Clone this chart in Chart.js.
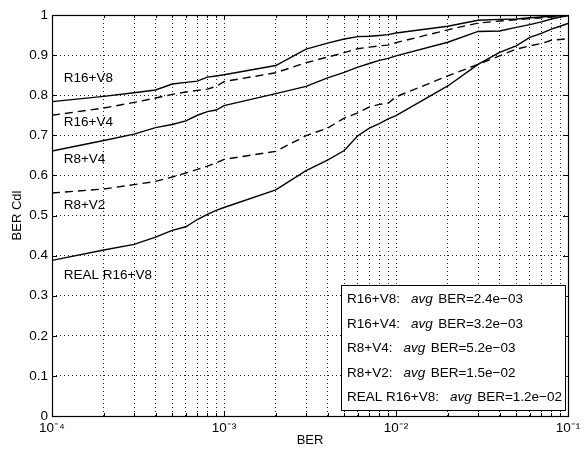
<!DOCTYPE html>
<html>
<head>
<meta charset="utf-8">
<script src="https://cdn.jsdelivr.net/npm/chart.js@4.4.0/dist/chart.umd.min.js"></script>
<style>
  html, body { margin: 0; padding: 0; background: #ffffff; }
  #wrap { width: 588px; height: 454px; }
</style>
</head>
<body>
<div id="wrap"><canvas id="c" width="588" height="454"></canvas></div>
<script>
// ---- data ----
const berValues = [
  1e-4, 2e-4, 3e-4, 4e-4, 5e-4, 6e-4, 7e-4, 8e-4, 9e-4,
  1e-3, 2e-3, 3e-3, 4e-3, 5e-3, 6e-3, 7e-3, 8e-3, 9e-3,
  1e-2, 2e-2, 3e-2, 4e-2, 5e-2, 6e-2, 7e-2, 8e-2, 9e-2,
  1e-1
];
const r16v8 = [
  0.784, 0.797, 0.806, 0.813, 0.828, 0.832, 0.835, 0.845, 0.848,
  0.851, 0.874, 0.915, 0.930, 0.940, 0.946, 0.947, 0.949, 0.951,
  0.955, 0.972, 0.987, 0.989, 0.990, 0.993, 0.995, 0.997, 0.998,
  1.000
];
const r16v4 = [
  0.750, 0.768, 0.782, 0.793, 0.802, 0.808, 0.812, 0.815, 0.822,
  0.834, 0.856, 0.881, 0.895, 0.906, 0.916, 0.920, 0.923, 0.925,
  0.931, 0.963, 0.980, 0.985, 0.988, 0.991, 0.993, 0.995, 0.997,
  0.999
];
const r8v4 = [
  0.661, 0.687, 0.703, 0.719, 0.727, 0.736, 0.750, 0.759, 0.763,
  0.774, 0.804, 0.822, 0.843, 0.857, 0.870, 0.879, 0.887, 0.892,
  0.898, 0.932, 0.959, 0.960, 0.969, 0.976, 0.983, 0.990, 0.995,
  0.998
];
const r8v2 = [
  0.556, 0.566, 0.577, 0.585, 0.596, 0.606, 0.615, 0.623, 0.631,
  0.640, 0.660, 0.699, 0.718, 0.743, 0.756, 0.771, 0.777, 0.780,
  0.796, 0.848, 0.877, 0.898, 0.915, 0.923, 0.929, 0.937, 0.939,
  0.941
];
const realR16v8 = [
  0.388, 0.414, 0.428, 0.446, 0.463, 0.472, 0.490, 0.503, 0.513,
  0.520, 0.564, 0.612, 0.638, 0.662, 0.699, 0.718, 0.729, 0.741,
  0.749, 0.823, 0.877, 0.907, 0.923, 0.944, 0.954, 0.965, 0.972,
  0.979
];
const seriesNames = ['R16+V8', 'R16+V4', 'R8+V4', 'R8+V2', 'REAL R16+V8'];
const avgBer = ['2.4e\u221203', '3.2e\u221203', '5.2e\u221203', '1.5e\u221202', '1.2e\u221202'];
const xTickValues = berValues;
const yTickValues = [0, 0.1, 0.2, 0.3, 0.4, 0.5, 0.6, 0.7, 0.8, 0.9, 1];
const supDigits = {'-': '\u207B', '0': '\u2070', '1': '\u00B9', '2': '\u00B2', '3': '\u00B3', '4': '\u2074'};
// curve label anchors (data coordinates)
const curveLabelX = [1.17e-4, 1.17e-4, 1.17e-4, 1.17e-4, 1.17e-4];
const curveLabelY = [0.842, 0.732, 0.639, 0.525, 0.352];

const FONT = "'Liberation Sans', Arial, Helvetica, sans-serif";
const mk = arr => berValues.map((x, i) => ({x: x, y: arr[i]}));
const allSeries = [r16v8, r16v4, r8v4, r8v2, realR16v8];
const dashes = [[], [8, 5], [], [8, 5], []];

const datasets = allSeries.map((s, i) => ({
  label: seriesNames[i],
  data: mk(s),
  borderColor: '#000',
  borderWidth: 1.4,
  borderDash: dashes[i],
  pointRadius: 0,
  fill: false,
  tension: 0
}));

function isDecade(v) {
  const l = Math.log10(v);
  return Math.abs(l - Math.round(l)) < 1e-9;
}
function decadeLabel(v) {
  const e = String(Math.round(Math.log10(v)));
  return '10' + e.split('').map(c => supDigits[c]).join('');
}

const framePlugin = {
  id: 'frame',
  afterDraw(chart) {
    const ctx = chart.ctx;
    const a = chart.chartArea;
    const xs = chart.scales.x, ys = chart.scales.y;
    ctx.save();
    // inward tick marks
    ctx.strokeStyle = '#000';
    ctx.lineWidth = 1;
    ctx.beginPath();
    xTickValues.forEach(v => {
      const px = Math.round(xs.getPixelForValue(v)) + 0.5;
      const len = isDecade(v) ? 5 : 3;
      ctx.moveTo(px, a.bottom); ctx.lineTo(px, a.bottom - len);
      ctx.moveTo(px, a.top); ctx.lineTo(px, a.top + len);
    });
    yTickValues.forEach(v => {
      const py = Math.round(ys.getPixelForValue(v)) + 0.5;
      ctx.moveTo(a.left, py); ctx.lineTo(a.left + 5, py);
      ctx.moveTo(a.right, py); ctx.lineTo(a.right - 5, py);
    });
    ctx.stroke();
    // axes box
    ctx.lineWidth = 1.2;
    ctx.strokeRect(Math.round(a.left) + 0.5, Math.round(a.top) + 0.5,
                   Math.round(a.right - a.left), Math.round(a.bottom - a.top));
    // curve labels
    ctx.fillStyle = '#000';
    ctx.font = '13.5px ' + FONT;
    ctx.textBaseline = 'middle';
    ctx.textAlign = 'left';
    seriesNames.forEach((n, i) => {
      ctx.fillText(n, xs.getPixelForValue(curveLabelX[i]), ys.getPixelForValue(curveLabelY[i]));
    });
    // legend box
    const bw = 224, bh = 125;
    const bx = Math.round(a.right - 3 - bw) + 0.5;
    const by = Math.round(a.bottom - 6 - bh) + 0.5;
    ctx.fillStyle = '#fff';
    ctx.fillRect(bx, by, bw, bh);
    ctx.lineWidth = 1;
    ctx.strokeStyle = '#000';
    ctx.strokeRect(bx, by, bw, bh);
    ctx.fillStyle = '#000';
    seriesNames.forEach((n, i) => {
      const ty = by + 14 + i * 24.5;
      let tx = bx + 5.5;
      ctx.font = '13.5px ' + FONT;
      const p1 = n + ':';
      ctx.fillText(p1, tx, ty);
      tx += ctx.measureText(p1).width + 11;
      ctx.font = 'italic 13.5px ' + FONT;
      ctx.fillText('avg', tx, ty);
      tx += ctx.measureText('avg').width + 5.5;
      ctx.font = '13.5px ' + FONT;
      ctx.fillText('BER=' + avgBer[i], tx, ty);
    });
    ctx.restore();
  }
};

new Chart(document.getElementById('c'), {
  type: 'line',
  data: { datasets: datasets },
  options: {
    responsive: false,
    animation: false,
    devicePixelRatio: 1,
    layout: { padding: { top: 15, right: 20, left: 0, bottom: 0 } },
    plugins: { legend: { display: false }, tooltip: { enabled: false } },
    scales: {
      x: {
        type: 'logarithmic',
        min: 1e-4, max: 1e-1,
        afterBuildTicks: s => { s.ticks = xTickValues.map(v => ({value: v})); },
        afterFit: s => { s.height = 38; },
        ticks: {
          autoSkip: false, maxRotation: 0,
          color: '#000',
          font: { family: FONT, size: 13.5 },
          padding: 4,
          callback: v => isDecade(v) ? decadeLabel(v) : ''
        },
        grid: { color: '#222', lineWidth: 1, drawTicks: false },
        border: { display: false, dash: [1, 3] },
        title: {
          display: true, text: 'BER', color: '#000',
          font: { family: FONT, size: 13 },
          padding: { top: 0, bottom: 6 }
        }
      },
      y: {
        type: 'linear',
        min: 0, max: 1,
        afterBuildTicks: s => { s.ticks = yTickValues.map(v => ({value: v})); },
        afterFit: s => { s.width = 52; },
        ticks: {
          color: '#000',
          font: { family: FONT, size: 13.5 },
          padding: 4,
          callback: v => String(Math.round(v * 10) / 10)
        },
        grid: { color: '#222', lineWidth: 1, drawTicks: false },
        border: { display: false, dash: [1, 3] },
        title: {
          display: true, text: 'BER Cdl', color: '#000',
          font: { family: FONT, size: 13 },
          padding: { top: 10, bottom: 0 }
        }
      }
    }
  },
  plugins: [framePlugin]
});
</script>
</body>
</html>
